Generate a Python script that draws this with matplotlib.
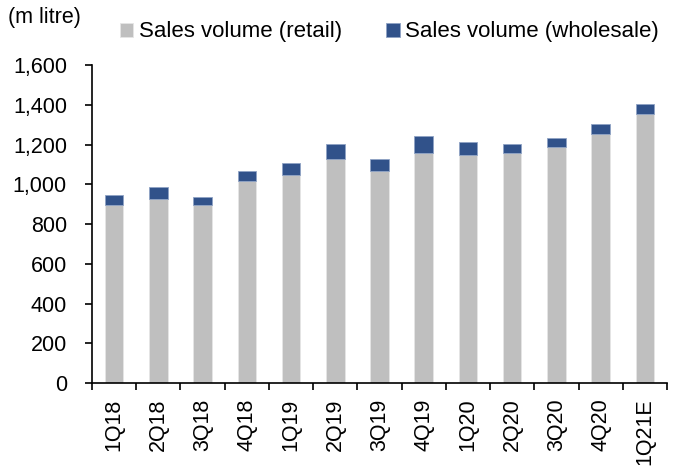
import matplotlib.pyplot as plt
import numpy as np

plt.rcParams['font.family'] = ['Liberation Sans', 'DejaVu Sans']

# data (m litre)
quarters = ['1Q18', '2Q18', '3Q18', '4Q18', '1Q19', '2Q19', '3Q19',
            '4Q19', '1Q20', '2Q20', '3Q20', '4Q20', '1Q21E']
retail = [895, 925, 895, 1015, 1045, 1125, 1065, 1155, 1145, 1155, 1185, 1255, 1355]
wholesale = [50, 60, 40, 50, 60, 80, 60, 90, 70, 50, 50, 50, 50]
yticks = [0, 200, 400, 600, 800, 1000, 1200, 1400, 1600]

grey = '#BFBFBF'
blue = '#31528A'
fs = 15.5

fig = plt.figure(figsize=(6.81, 4.68), dpi=100)
ax = fig.add_axes([92 / 681, 1 - 383 / 468, 575 / 681, 318 / 468])

x = np.arange(len(quarters))
ax.bar(x, retail, width=0.42, color=grey, edgecolor='#E6E6E6', linewidth=0.6,
       label='Sales volume (retail)')
ax.bar(x, wholesale, bottom=retail, width=0.42, color=blue, edgecolor='#8FA3C4',
       linewidth=0.6, label='Sales volume (wholesale)')

ax.set_xlim(-0.5, len(quarters) - 0.5)
ax.set_ylim(0, 1600)
ax.set_yticks(yticks)
ax.set_yticklabels([f'{v:,}' for v in yticks], fontsize=fs)

# category ticks between bars, labels in the middle
ax.set_xticks(np.arange(-0.5, len(quarters), 1))
ax.set_xticklabels([])
ax.set_xticks(x, minor=True)
ax.set_xticklabels(quarters, minor=True, rotation=90, fontsize=fs)
ax.tick_params(axis='x', which='minor', length=0, pad=11)
ax.tick_params(axis='x', which='major', length=5, width=1.2, direction='out')
ax.tick_params(axis='y', length=5, width=1.2, direction='out', pad=13)

for s in ['top', 'right']:
    ax.spines[s].set_visible(False)
for s in ['left', 'bottom']:
    ax.spines[s].set_linewidth(1.2)

fig.text(8 / 681, 1 - 18 / 468, '(m litre)', fontsize=fs, va='center')
ax.legend(loc='center left', bbox_to_anchor=(28 / 575, 1 + 33 / 318),
          ncol=2, frameon=False, fontsize=16, handlelength=0.6,
          handleheight=0.6, handletextpad=0.25, columnspacing=2.0,
          borderaxespad=0, borderpad=0)

fig.savefig('out.png', dpi=100)
